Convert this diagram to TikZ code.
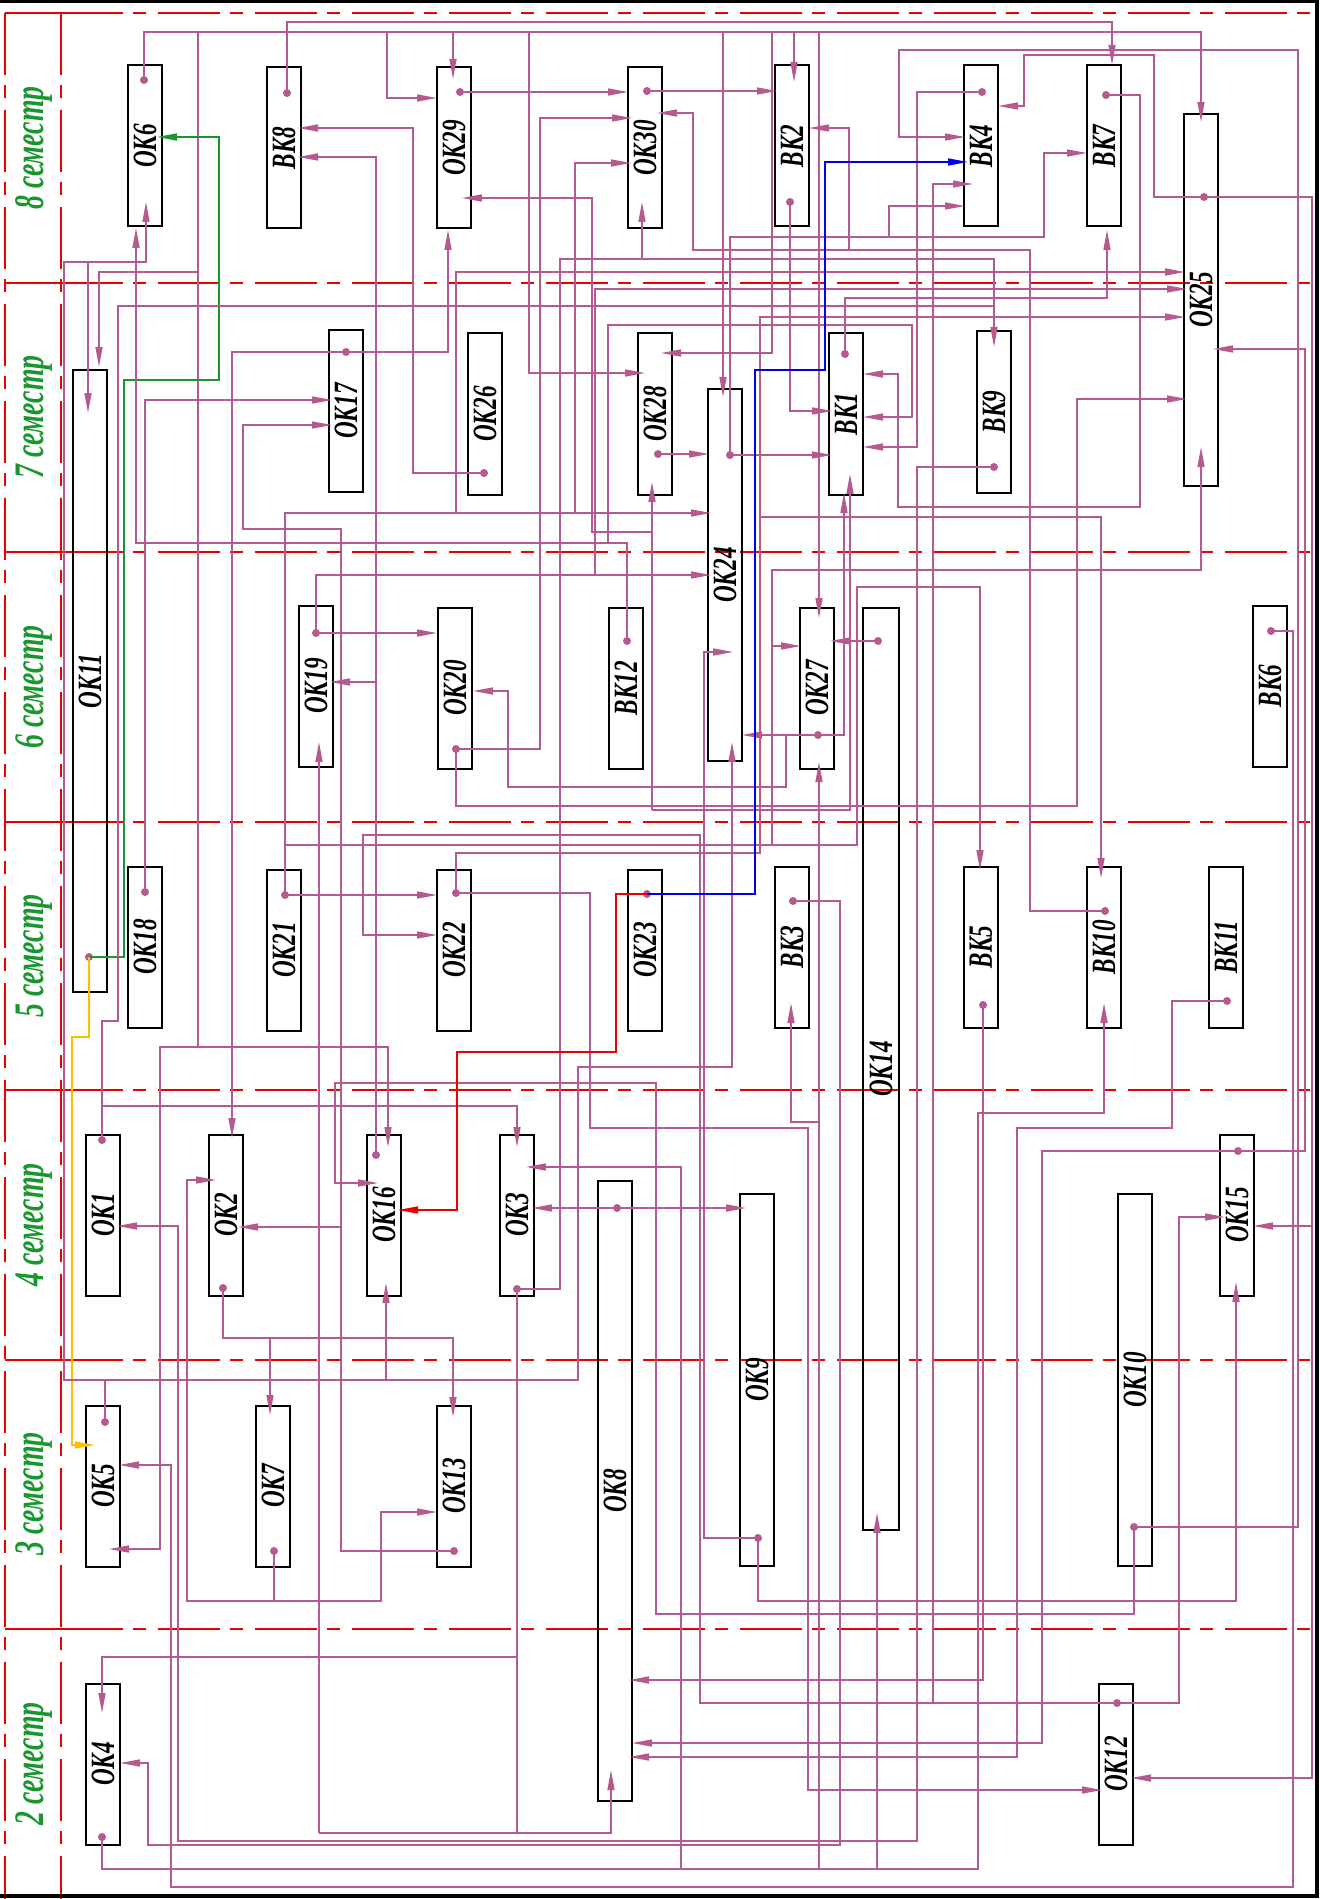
\documentclass[tikz,border=0pt]{standalone}
\usepackage{graphicx}
\usepackage{fontspec}
\setmainfont{Liberation Serif}
\usetikzlibrary{arrows.meta}
\definecolor{linkc}{RGB}{180,90,145}
\definecolor{semc}{RGB}{25,150,45}
\definecolor{gridc}{RGB}{235,0,0}
\definecolor{bluec}{RGB}{0,0,230}
\definecolor{yelc}{RGB}{255,190,0}
\tikzset{
    kbox/.style={draw,line width=1pt,minimum width=17pt,minimum height=80.5pt,inner sep=0pt,font=\fontsize{17}{17}\selectfont\bfseries\itshape},
    sem/.style={text=semc,inner sep=0pt,font=\fontsize{21}{21}\selectfont\bfseries\itshape},
    grid/.style={gridc,line width=0.8pt,dash pattern=on 31pt off 5pt on 6.5pt off 6pt},
    link/.style={linkc,line width=0.75pt},
    arr/.style={link,-{Triangle[length=10pt,width=3.5pt]}},
    pt/.style={circle,fill=linkc,inner sep=0pt,minimum size=4pt}
}
\newcommand{\vlbl}[1]{\rotatebox{90}{\scalebox{0.68}[1]{#1}}}

\begin{document}
\begin{tikzpicture}[x=0.5pt,y=-0.5pt]
    \useasboundingbox (0,0) rectangle (1320,1899);
    % semester grid
    \foreach \y in {13,283,552,822,1090,1360,1629} {
        \draw[gridc,line width=0.8pt] (5,\y) -- (61,\y);
        \draw[grid] (61,\y) -- (1316,\y);
    }
    \draw[grid] (5,13) -- (5,1899);
    \draw[grid] (61,13) -- (61,1899);
    \foreach \s/\y in {8/148,7/417,6/687,5/956,4/1225,3/1494,2/1764}
        \node[sem] (sem\s) at (34,\y) {\rotatebox{90}{\scalebox{0.66}[1]{\s\ семестр}}};
    \draw[line width=2pt] (0,1) -- (1316.5,1) -- (1316.5,1896) -- (0,1896);

    % courses
    \node[kbox] (OK6) at (145,146) {\vlbl{ОК6}};
    \node[kbox] (VK8) at (284,148) {\vlbl{ВК8}};
    \node[kbox] (OK29) at (454,148) {\vlbl{ОК29}};
    \node[kbox] (OK30) at (645,148) {\vlbl{ОК30}};
    \node[kbox] (VK2) at (792,146) {\vlbl{ВК2}};
    \node[kbox] (VK4) at (981,146) {\vlbl{ВК4}};
    \node[kbox] (VK7) at (1104,146) {\vlbl{ВК7}};
    \node[kbox,minimum height=185.5pt] (OK25) at (1201,300) {\vlbl{ОК25}};
    \node[kbox,minimum height=310.5pt] (OK11) at (90,681) {\vlbl{ОК11}};
    \node[kbox] (OK17) at (346,411) {\vlbl{ОК17}};
    \node[kbox] (OK26) at (485,414) {\vlbl{ОК26}};
    \node[kbox] (OK28) at (655,414) {\vlbl{ОК28}};
    \node[kbox,minimum height=186pt] (OK24) at (725,575) {\vlbl{ОК24}};
    \node[kbox] (VK1) at (846,414) {\vlbl{ВК1}};
    \node[kbox] (VK9) at (994,412) {\vlbl{ВК9}};
    \node[kbox] (OK19) at (316,686) {\vlbl{ОК19}};
    \node[kbox] (OK20) at (455,688) {\vlbl{ОК20}};
    \node[kbox] (VK12) at (626,688) {\vlbl{ВК12}};
    \node[kbox] (OK27) at (817,688) {\vlbl{ОК27}};
    \node[kbox,minimum width=18pt,minimum height=461pt] (OK14) at (881,1069) {\vlbl{ОК14}};
    \node[kbox] (VK6) at (1270,686) {\vlbl{ВК6}};
    \node[kbox] (OK18) at (145,947) {\vlbl{ОК18}};
    \node[kbox] (OK21) at (284,950) {\vlbl{ОК21}};
    \node[kbox] (OK22) at (454,950) {\vlbl{ОК22}};
    \node[kbox] (OK23) at (645,950) {\vlbl{ОК23}};
    \node[kbox] (VK3) at (792,947) {\vlbl{ВК3}};
    \node[kbox] (VK5) at (981,947) {\vlbl{ВК5}};
    \node[kbox] (VK10) at (1104,947) {\vlbl{ВК10}};
    \node[kbox] (VK11) at (1226,947) {\vlbl{ВК11}};
    \node[kbox] (OK1) at (103,1215) {\vlbl{ОК1}};
    \node[kbox] (OK2) at (226,1215) {\vlbl{ОК2}};
    \node[kbox] (OK16) at (384,1215) {\vlbl{ОК16}};
    \node[kbox] (OK3) at (517,1215) {\vlbl{ОК3}};
    \node[kbox] (OK15) at (1237,1215) {\vlbl{ОК15}};
    \node[kbox,minimum height=310pt] (OK8) at (615,1491) {\vlbl{ОК8}};
    \node[kbox,minimum height=186pt] (OK9) at (757,1380) {\vlbl{ОК9}};
    \node[kbox,minimum height=186pt] (OK10) at (1135,1380) {\vlbl{ОК10}};
    \node[kbox] (OK5) at (103,1486) {\vlbl{ОК5}};
    \node[kbox] (OK7) at (273,1486) {\vlbl{ОК7}};
    \node[kbox] (OK13) at (454,1486) {\vlbl{ОК13}};
    \node[kbox] (OK4) at (103,1764) {\vlbl{ОК4}};
    \node[kbox] (OK12) at (1116,1764) {\vlbl{ОК12}};

    % outputs
    \node[pt] (dOK6) at (144,80) {};
    \node[pt] (dVK8) at (287,93) {};
    \node[pt] (dOK29) at (460,92) {};
    \node[pt] (dOK30) at (647,91) {};
    \node[pt] (dVK2) at (790,202) {};
    \node[pt] (dVK4) at (982,92) {};
    \node[pt] (dVK7) at (1106,95) {};
    \node[pt] (dOK25) at (1204,197) {};
    \node[pt] (dOK17) at (346,352) {};
    \node[pt] (dOK26) at (484,473) {};
    \node[pt] (dOK28) at (658,454) {};
    \node[pt] (dOK24) at (730,455) {};
    \node[pt] (dVK1) at (845,354) {};
    \node[pt] (dVK9) at (994,467) {};
    \node[pt] (dOK19) at (316,633) {};
    \node[pt] (dOK20) at (456,749) {};
    \node[pt] (dVK12) at (627,641) {};
    \node[pt] (dOK27) at (818,735) {};
    \node[pt] (dOK14) at (878,641) {};
    \node[pt] (dVK6) at (1271,631) {};
    \node[pt] (dOK11) at (89,957) {};
    \node[pt] (dOK18) at (145,892) {};
    \node[pt] (dOK21) at (285,895) {};
    \node[pt] (dOK22) at (456,893) {};
    \node[pt] (dOK23) at (647,894) {};
    \node[pt] (dVK3) at (793,901) {};
    \node[pt] (dVK5) at (983,1005) {};
    \node[pt] (dVK10) at (1105,911) {};
    \node[pt] (dVK11) at (1227,1001) {};
    \node[pt] (dOK1) at (102,1140) {};
    \node[pt] (dOK16) at (376,1155) {};
    \node[pt] (dOK2) at (223,1288) {};
    \node[pt] (dOK3) at (517,1289) {};
    \node[pt] (dOK8) at (617,1208) {};
    \node[pt] (dOK15) at (1238,1151) {};
    \node[pt] (dOK5) at (105,1422) {};
    \node[pt] (dOK7) at (274,1551) {};
    \node[pt] (dOK13) at (454,1551) {};
    \node[pt] (dOK9) at (758,1538) {};
    \node[pt] (dOK10) at (1134,1527) {};
    \node[pt] (dOK4) at (102,1837) {};
    \node[pt] (dOK12) at (1117,1703) {};

    % links
    \draw[arr] (dOK6.center) -- (144,32) -- (1201,32) -- (1201,122);
    \draw[arr] (198,32) -- (198,1047) -- (160,1047) -- (160,1549) -- (109,1549);
    \draw[arr] (198,1047) -- (388,1047) -- (388,1147);
    \draw[arr] (198,272) -- (99,272) -- (99,367);
    \draw[arr] (387,32) -- (387,98) -- (437,98);
    \draw[arr] (453,32) -- (453,79);
    \draw[arr] (529,32) -- (529,373) -- (645,373);
    \draw[arr] (723,32) -- (723,397);
    \draw[arr] (772,32) -- (772,353) -- (661,353);
    \draw[arr] (794,32) -- (794,82);
    \draw[arr] (819,32) -- (819,618);
    \draw[arr] (dVK8.center) -- (287,22) -- (1112,22) -- (1112,65);
    \draw[arr] (dOK29.center) -- (628,92);
    \draw[arr] (dOK30.center) -- (777,91);
    \draw[arr] (dVK2.center) -- (790,411) -- (832,411);
    \draw[arr] (dOK17.center) -- (448,352) -- (448,230);
    \draw[arr] (dOK17.center) -- (232,352) -- (232,1138);
    \draw[arr] (dOK18.center) -- (145,400) -- (332,400);
    \draw[arr] (dOK26.center) -- (413,473) -- (413,128) -- (298,128);
    \draw[arr] (dOK16.center) -- (376,157) -- (298,157);
    \draw[arr] (376,682) -- (330,682);
    \draw[arr,semc] (dOK11.center) -- (124,957) -- (124,380) -- (219,380) -- (219,137) -- (157,137);
    \draw[arr,yelc] (dOK11.center) -- (89,1037) -- (72,1037) -- (72,1445) -- (95,1445);
    \draw[arr] (dOK5.center) -- (105,1380) -- (64,1380) -- (64,262) -- (146,262) -- (146,202);
    \draw[arr] (88,262) -- (88,413);
    \draw[arr] (105,1380) -- (578,1380) -- (578,1067) -- (732,1067) -- (732,742);
    \draw[arr] (386,1380) -- (386,1283);
    \draw[arr] (dVK12.center) -- (627,543) -- (136,543) -- (136,228);
    \draw[arr] (608,543) -- (608,325) -- (912,325) -- (912,417) -- (863,417);
    \draw[link] (dOK1.center) -- (102,1021) -- (118,1021) -- (118,306) -- (994,306);
    \draw[arr] (102,1106) -- (517,1106) -- (517,1147);
    \draw[arr] (dOK21.center) -- (437,895);
    \draw[arr] (dOK21.center) -- (285,513) -- (711,513);
    \draw[arr] (456,513) -- (456,272) -- (1185,272);
    \draw[arr] (575,513) -- (575,163) -- (631,163);
    \draw[arr] (285,845) -- (857,845) -- (857,587) -- (980,587) -- (980,870);
    \draw[arr] (772,845) -- (772,570) -- (1201,570) -- (1201,447);
    \draw[arr] (772,646) -- (801,646);
    \draw[arr] (dOK19.center) -- (437,633);
    \draw[arr] (dOK19.center) -- (316,575) -- (711,575);
    \draw[arr] (595,575) -- (595,289) -- (1187,289);
    \draw[arr] (dOK20.center) -- (540,749) -- (540,118) -- (632,118);
    \draw[arr] (dOK20.center) -- (456,806) -- (1077,806) -- (1077,399) -- (1187,399);
    \draw[arr] (652,810) -- (850,810) -- (850,474);
    \draw[arr] (652,810) -- (652,482);
    \draw[arr] (652,532) -- (592,532) -- (592,198) -- (462,198);
    \draw[arr] (dOK27.center) -- (742,735);
    \draw[arr] (dOK27.center) -- (844,735) -- (844,493);
    \draw[arr] (786,735) -- (786,787) -- (508,787) -- (508,691) -- (473,691);
    \draw[arr] (dOK28.center) -- (709,454);
    \draw[arr] (dOK24.center) -- (832,455);
    \draw[arr] (dOK24.center) -- (730,237) -- (1044,237) -- (1044,153) -- (1087,153);
    \draw[arr] (889,237) -- (889,206) -- (965,206);
    \draw[arr] (dVK1.center) -- (845,298) -- (1107,298) -- (1107,230);
    \draw[arr] (dVK4.center) -- (917,92) -- (917,447) -- (863,447);
    \draw[arr] (dVK7.center) -- (1140,95) -- (1140,507) -- (898,507) -- (898,374) -- (863,374);
    \draw[arr] (dOK25.center) -- (1154,197) -- (1154,55) -- (1024,55) -- (1024,106) -- (998,106);
    \draw[arr] (dOK25.center) -- (1312,197) -- (1312,1778) -- (1131,1778);
    \draw[arr] (1312,1226) -- (1253,1226);
    \draw[arr] (dVK10.center) -- (1030,911) -- (1030,250) -- (693,250) -- (693,113) -- (657,113);
    \draw[arr] (849,250) -- (849,128) -- (809,128);
    \draw[arr] (dVK9.center) -- (917,467) -- (917,1841) -- (178,1841) -- (178,1226) -- (117,1226);
    \draw[arr] (dVK6.center) -- (1293,631) -- (1293,1887) -- (171,1887) -- (171,1465) -- (119,1465);
    \draw[arr] (dVK11.center) -- (1172,1001) -- (1172,1128) -- (1017,1128) -- (1017,1757) -- (629,1757);
    \draw[arr] (dOK15.center) -- (1305,1151) -- (1305,349) -- (1213,349);
    \draw[arr] (dOK15.center) -- (1042,1151) -- (1042,1743) -- (632,1743);
    \draw[arr] (dVK5.center) -- (983,1680) -- (629,1680);
    \draw[arr] (dOK10.center) -- (1298,1527) -- (1298,50) -- (899,50) -- (899,137) -- (965,137);
    \draw[arr] (dOK10.center) -- (1134,1614) -- (656,1614) -- (656,1083) -- (335,1083) -- (335,1183) -- (378,1183);
    \draw[arr] (dOK12.center) -- (1179,1703) -- (1179,1217) -- (1225,1217);
    \draw[arr] (dOK12.center) -- (700,1703) -- (700,835) -- (363,835) -- (363,935) -- (437,935);
    \draw[arr] (933,1703) -- (933,184) -- (973,184);
    \draw[arr] (dOK9.center) -- (704,1538) -- (704,652) -- (733,652);
    \draw[arr] (dOK9.center) -- (758,1601) -- (1236,1601) -- (1236,1282);
    \draw[arr] (dOK8.center) -- (532,1208);
    \draw[arr] (dOK8.center) -- (746,1208);
    \draw[arr] (dOK3.center) -- (560,1289) -- (560,259) -- (994,259) -- (994,347);
    \draw[arr] (642,259) -- (642,202);
    \draw[link] (dOK3.center) -- (517,1833);
    \draw[arr] (517,1657) -- (102,1657) -- (102,1713);
    \draw[arr] (319,1833) -- (319,742);
    \draw[arr] (319,1833) -- (611,1833) -- (611,1770);
    \draw[arr] (dOK22.center) -- (456,853) -- (760,853) -- (760,517) -- (1101,517) -- (1101,878);
    \draw[arr] (760,517) -- (760,317) -- (1185,317);
    \draw[arr] (dOK22.center) -- (590,893) -- (590,1128) -- (808,1128) -- (808,1790) -- (1102,1790);
    \draw[arr,bluec] (dOK23.center) -- (755,894) -- (755,370) -- (825,370) -- (825,162) -- (968,162);
    \draw[arr,gridc] (dOK23.center) -- (616,894) -- (616,1052) -- (457,1052) -- (457,1210) -- (398,1210);
    \draw[arr] (dVK3.center) -- (840,901) -- (840,1845) -- (148,1845) -- (148,1763) -- (120,1763);
    \draw[arr] (dOK4.center) -- (102,1869) -- (978,1869) -- (978,1113) -- (1104,1113) -- (1104,1003);
    \draw[arr] (681,1869) -- (681,1167) -- (526,1167);
    \draw[arr] (819,1869) -- (819,762);
    \draw[arr] (819,1122) -- (791,1122) -- (791,1003);
    \draw[arr] (877,1869) -- (877,1513);
    \draw[arr] (dOK2.center) -- (223,1338) -- (453,1338) -- (453,1417);
    \draw[arr] (270,1338) -- (270,1415);
    \draw[arr] (dOK7.center) -- (274,1601) -- (187,1601) -- (187,1180) -- (216,1180);
    \draw[arr] (274,1601) -- (381,1601) -- (381,1512) -- (437,1512);
    \draw[arr] (dOK13.center) -- (341,1551) -- (341,529) -- (243,529) -- (243,425) -- (332,425);
    \draw[arr] (341,1227) -- (238,1227);
    \draw[arr] (dOK14.center) -- (830,641);
\end{tikzpicture}
\end{document}
